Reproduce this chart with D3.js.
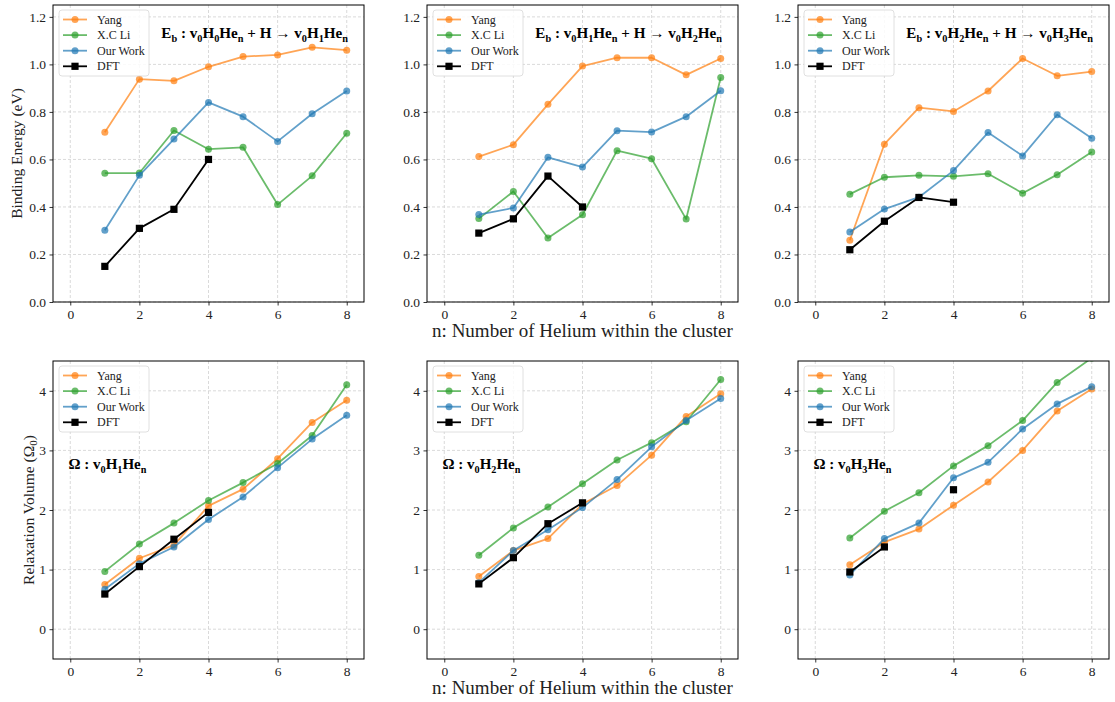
<!DOCTYPE html>
<html><head><meta charset="utf-8">
<script src="https://cdn.jsdelivr.net/npm/d3@7"></script>
<style>
body{margin:0;background:#fff}
text{font-family:"Liberation Serif","Times New Roman",serif;}
</style>
</head><body>
<svg id="chart" width="1115" height="702"></svg>
<script>
// ---------- data ----------
const nValues = [1, 2, 3, 4, 5, 6, 7, 8];
const xTicks = [0, 2, 4, 6, 8];
const ebTicks = [0, 0.2, 0.4, 0.6, 0.8, 1.0, 1.2];
const rvTicks = [0, 1, 2, 3, 4];
const seriesNames = ["Yang", "X.C Li", "Our Work", "DFT"];
const seriesColors = ["#ff7f0e", "#2ca02c", "#1f77b4", "#000000"];

// Binding energy: v0H0Hen + H -> v0H1Hen
const eb1Yang = [0.714, 0.938, 0.931, 0.990, 1.033, 1.040, 1.072, 1.060];
const eb1Li   = [0.542, 0.543, 0.722, 0.643, 0.651, 0.410, 0.531, 0.710];
const eb1Ours = [0.302, 0.533, 0.686, 0.840, 0.780, 0.676, 0.792, 0.888];
const eb1DFT  = [0.15, 0.31, 0.39, 0.60];
// Binding energy: v0H1Hen + H -> v0H2Hen
const eb2Yang = [0.612, 0.662, 0.832, 0.993, 1.028, 1.028, 0.956, 1.025];
const eb2Li   = [0.351, 0.465, 0.269, 0.367, 0.637, 0.603, 0.349, 0.945];
const eb2Ours = [0.368, 0.396, 0.609, 0.568, 0.721, 0.715, 0.780, 0.889];
const eb2DFT  = [0.29, 0.35, 0.53, 0.40];
// Binding energy: v0H2Hen + H -> v0H3Hen
const eb3Yang = [0.260, 0.664, 0.818, 0.802, 0.888, 1.025, 0.952, 0.970];
const eb3Li   = [0.454, 0.525, 0.533, 0.529, 0.540, 0.458, 0.536, 0.631];
const eb3Ours = [0.295, 0.391, 0.441, 0.553, 0.713, 0.615, 0.788, 0.689];
const eb3DFT  = [0.22, 0.34, 0.44, 0.42];
// Relaxation volume: v0H1Hen
const rv1Yang = [0.75, 1.19, 1.41, 2.07, 2.35, 2.86, 3.47, 3.84];
const rv1Li   = [0.97, 1.43, 1.78, 2.16, 2.46, 2.78, 3.25, 4.10];
const rv1Ours = [0.67, 1.10, 1.38, 1.84, 2.22, 2.71, 3.19, 3.59];
const rv1DFT  = [0.59, 1.05, 1.51, 1.96];
// Relaxation volume: v0H2Hen
const rv2Yang = [0.885, 1.32, 1.52, 2.10, 2.41, 2.92, 3.57, 3.95];
const rv2Li   = [1.24, 1.70, 2.05, 2.44, 2.84, 3.13, 3.48, 4.19];
const rv2Ours = [0.78, 1.32, 1.67, 2.04, 2.51, 3.06, 3.50, 3.87];
const rv2DFT  = [0.76, 1.20, 1.77, 2.12];
// Relaxation volume: v0H3Hen
const rv3Yang = [1.08, 1.46, 1.68, 2.08, 2.47, 3.00, 3.66, 4.03];
const rv3Li   = [1.53, 1.98, 2.29, 2.74, 3.08, 3.50, 4.14, 4.55];
const rv3Ours = [0.91, 1.52, 1.78, 2.54, 2.80, 3.36, 3.78, 4.07];
const rv3DFT  = [0.96, 1.38, null, 2.34];

// ---------- panels ----------
const colLeft = [53, 427, 798];
const panelW = 311;
const rowTop = [5, 361];
const panelH = [297, 298];

const ebTitles = [
  [["E",0],["b",1],[" : v",0],["0",1],["H",0],["0",1],["He",0],["n",1],[" + H \u2192 v",0],["0",1],["H",0],["1",1],["He",0],["n",1]],
  [["E",0],["b",1],[" : v",0],["0",1],["H",0],["1",1],["He",0],["n",1],[" + H \u2192 v",0],["0",1],["H",0],["2",1],["He",0],["n",1]],
  [["E",0],["b",1],[" : v",0],["0",1],["H",0],["2",1],["He",0],["n",1],[" + H \u2192 v",0],["0",1],["H",0],["3",1],["He",0],["n",1]]
];
const rvTitles = [
  [["\u03A9 : v",0],["0",1],["H",0],["1",1],["He",0],["n",1]],
  [["\u03A9 : v",0],["0",1],["H",0],["2",1],["He",0],["n",1]],
  [["\u03A9 : v",0],["0",1],["H",0],["3",1],["He",0],["n",1]]
];

const panels = [
  {row:0,col:0,data:[eb1Yang,eb1Li,eb1Ours,eb1DFT],title:ebTitles[0]},
  {row:0,col:1,data:[eb2Yang,eb2Li,eb2Ours,eb2DFT],title:ebTitles[1]},
  {row:0,col:2,data:[eb3Yang,eb3Li,eb3Ours,eb3DFT],title:ebTitles[2]},
  {row:1,col:0,data:[rv1Yang,rv1Li,rv1Ours,rv1DFT],title:rvTitles[0]},
  {row:1,col:1,data:[rv2Yang,rv2Li,rv2Ours,rv2DFT],title:rvTitles[1]},
  {row:1,col:2,data:[rv3Yang,rv3Li,rv3Ours,rv3DFT],title:rvTitles[2]}
];

const svg = d3.select("#chart");

function richText(g, parts, fs, x, y, anchor, targetW) {
  const t = g.append("text").attr("x", x).attr("y", y).attr("text-anchor", anchor)
    .attr("font-weight", "bold").attr("fill", "#000").style("white-space", "pre");
  let shift = 0;
  parts.forEach(([s, sub]) => {
    const sp = t.append("tspan").text(s).attr("font-size", sub ? fs * 0.68 : fs);
    const target = sub ? fs * 0.25 : 0;
    if (target !== shift) { sp.attr("dy", target - shift); shift = target; }
  });
  if (targetW) {
    const w = t.node().getComputedTextLength();
    const k = targetW / w;
    t.selectAll("tspan").each(function() {
      const el = d3.select(this);
      el.attr("font-size", +el.attr("font-size") * k);
      if (el.attr("dy") !== null) el.attr("dy", +el.attr("dy") * k);
    });
  }
  return t;
}

panels.forEach((p, pi) => {
  const left = colLeft[p.col], top = rowTop[p.row], h = panelH[p.row];
  const isEb = p.row === 0;
  const x = d3.scaleLinear().domain([-0.5, 8.5]).range([left, left + panelW]);
  const y = isEb ? d3.scaleLinear().domain([0, 1.25]).range([top + h, top])
                 : d3.scaleLinear().domain([-0.5, 4.5]).range([top + h, top]);
  const yT = isEb ? ebTicks : rvTicks;
  const g = svg.append("g");
  const clipId = "clip" + pi;
  g.append("clipPath").attr("id", clipId).append("rect")
    .attr("x", left).attr("y", top).attr("width", panelW).attr("height", h);

  // grid
  const grid = g.append("g").attr("stroke", "#d0d0d0").attr("stroke-width", 0.8).attr("stroke-dasharray", "3,2");
  grid.selectAll(".gx").data(xTicks).join("line")
    .attr("x1", d => x(d)).attr("x2", d => x(d)).attr("y1", top).attr("y2", top + h);
  grid.selectAll(".gy").data(yT).join("line")
    .attr("y1", d => y(d)).attr("y2", d => y(d)).attr("x1", left).attr("x2", left + panelW);

  // series
  const plot = g.append("g").attr("clip-path", `url(#${clipId})`);
  p.data.forEach((vals, si) => {
    const pts = vals.map((v, i) => ({n: nValues[i], v}));
    const line = d3.line().defined(d => d.v !== null).x(d => x(d.n)).y(d => y(d.v));
    const isDFT = si === 3;
    plot.append("path").datum(pts).attr("d", line).attr("fill", "none")
      .attr("stroke", seriesColors[si]).attr("stroke-width", 1.8)
      .attr("stroke-opacity", isDFT ? 1 : 0.7).attr("stroke-linejoin", "round");
    const valid = pts.filter(d => d.v !== null);
    if (isDFT) {
      plot.selectAll(null).data(valid).join("rect")
        .attr("x", d => x(d.n) - 3.6).attr("y", d => y(d.v) - 3.6)
        .attr("width", 7.2).attr("height", 7.2).attr("fill", "#000");
    } else {
      plot.selectAll(null).data(valid).join("circle")
        .attr("cx", d => x(d.n)).attr("cy", d => y(d.v)).attr("r", 3.5)
        .attr("fill", seriesColors[si]).attr("fill-opacity", 0.7);
    }
  });

  // axes
  const xAxis = g.append("g").attr("transform", `translate(0,${top + h})`)
    .call(d3.axisBottom(x).tickValues(xTicks).tickFormat(d3.format("d")).tickSize(3.5).tickPadding(3.5).tickSizeOuter(0));
  const yAxis = g.append("g").attr("transform", `translate(${left},0)`)
    .call(d3.axisLeft(y).tickValues(yT).tickFormat(isEb ? d3.format(".1f") : d3.format("d")).tickSize(3.5).tickPadding(3.5).tickSizeOuter(0));
  [xAxis, yAxis].forEach(a => {
    a.select(".domain").remove();
    a.selectAll("text").attr("font-size", 13.5).attr("fill", "#222");
    a.selectAll("line").attr("stroke", "#000").attr("stroke-width", 0.8);
  });
  g.append("rect").attr("x", left).attr("y", top).attr("width", panelW).attr("height", h)
    .attr("fill", "none").attr("stroke", "#000").attr("stroke-width", 1);

  // legend
  const lg = g.append("g");
  lg.append("rect").attr("x", left + 6).attr("y", top + 5).attr("width", 90).attr("height", 66)
    .attr("rx", 3).attr("fill", "#fff").attr("fill-opacity", 0.85).attr("stroke", "#d8d8d8").attr("stroke-width", 0.8);
  seriesNames.forEach((name, si) => {
    const ly = top + 14.5 + si * 15.6;
    const isDFT = si === 3;
    lg.append("line").attr("x1", left + 10).attr("x2", left + 34).attr("y1", ly).attr("y2", ly)
      .attr("stroke", seriesColors[si]).attr("stroke-width", 1.8).attr("stroke-opacity", isDFT ? 1 : 0.7);
    if (isDFT) {
      lg.append("rect").attr("x", left + 22 - 3.6).attr("y", ly - 3.6).attr("width", 7.2).attr("height", 7.2).attr("fill", "#000");
    } else {
      lg.append("circle").attr("cx", left + 22).attr("cy", ly).attr("r", 3.5)
        .attr("fill", seriesColors[si]).attr("fill-opacity", 0.7);
    }
    lg.append("text").attr("x", left + 44).attr("y", ly + 4).attr("font-size", 12).attr("fill", "#222").text(name);
  });

  // annotation
  if (isEb) {
    richText(g, p.title, 13, left + panelW - 16, top + 33, "end", 187);
  } else {
    richText(g, p.title, 13, x(-0.05), y(2.68), "start", 78);
  }
});

// axis labels
svg.append("text").attr("transform", `translate(22,${rowTop[0] + panelH[0] / 2}) rotate(-90)`)
  .attr("text-anchor", "middle").attr("font-size", 15.5).attr("fill", "#222").text("Binding Energy (eV)");
const rvLab = svg.append("text").attr("transform", `translate(34,${rowTop[1] + panelH[1] / 2}) rotate(-90)`)
  .attr("text-anchor", "middle").attr("font-size", 15.5).attr("fill", "#222").style("white-space", "pre");
rvLab.append("tspan").text("Relaxation Volume (\u03A9");
rvLab.append("tspan").text("0").attr("font-size", 11).attr("dy", 3);
rvLab.append("tspan").text(")").attr("dy", -3);

const xLabel = "n: Number of Helium within the cluster";
svg.append("text").attr("x", colLeft[1] + panelW / 2).attr("y", 337).attr("text-anchor", "middle")
  .attr("font-size", 19).attr("fill", "#222").text(xLabel);
svg.append("text").attr("x", colLeft[1] + panelW / 2).attr("y", 694).attr("text-anchor", "middle")
  .attr("font-size", 19).attr("fill", "#222").text(xLabel);
</script>
</body></html>
